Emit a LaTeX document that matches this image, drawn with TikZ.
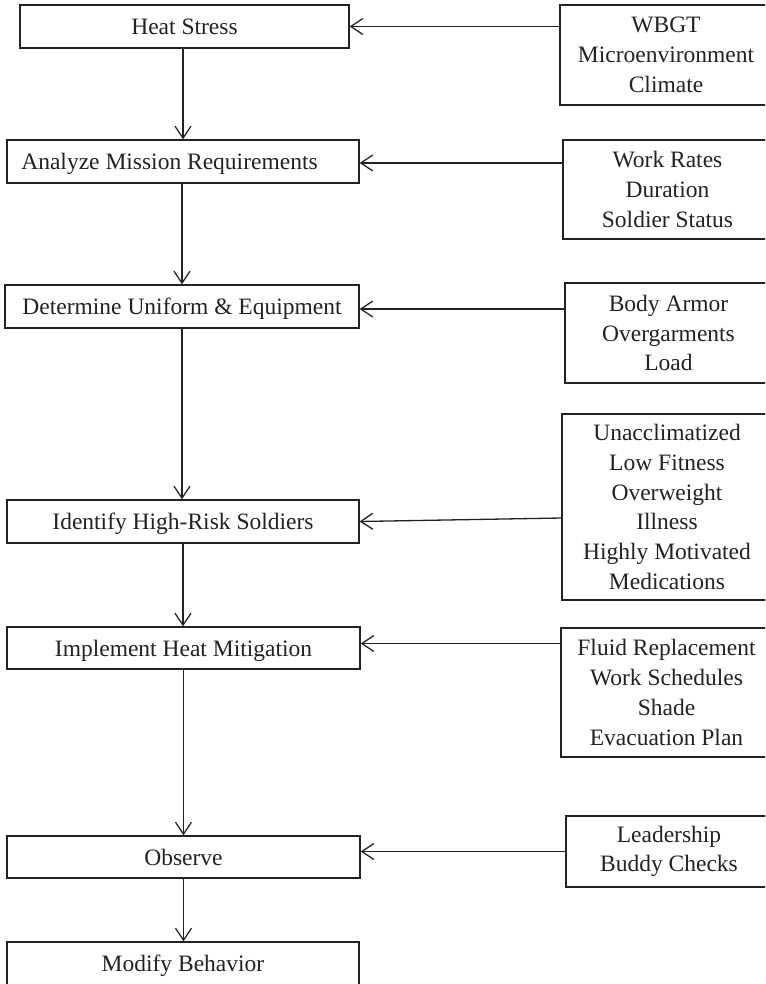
\documentclass[tikz,border=0pt]{standalone}
\usepackage{fontspec}
\setmainfont{Liberation Serif}
\usetikzlibrary{arrows.meta}
\definecolor{ink}{HTML}{222222}
\begin{document}
\begin{tikzpicture}[x=1pt,y=-1pt,
  stepbox/.style={draw=ink, line width=1.3pt, rectangle, inner sep=0pt,
    minimum height=43pt, text height=16pt, text depth=0pt,
    font=\fontsize{23.5}{29.7}\selectfont, text=ink},
  factbox/.style={draw=ink, line width=1.3pt, rectangle, inner sep=0pt,
    align=center, font=\fontsize{23.5}{29.7}\selectfont, text=ink},
  arr/.style={draw=ink, line width=1.3pt,
    -{Straight Barb[length=12pt,width=16pt,line width=1.3pt]}},
]
\useasboundingbox (0,0) rectangle (765,984);
\clip (0,0) rectangle (765,984);

% main sequence of steps
\node[stepbox, minimum width=329pt] (hs)  at (184.5,26.5) {Heat Stress};
\node[stepbox, minimum width=352pt] (amr) at (183,161.5) {Analyze Mission Requirements\hspace*{27pt}};
\node[stepbox, minimum width=354pt] (due) at (182,306.5) {Determine Uniform \& Equipment};
\node[stepbox, minimum width=352pt] (ihr) at (183,521.5) {Identify High-Risk Soldiers};
\node[stepbox, minimum width=353pt, minimum height=42pt] (ihm) at (183.5,648) {Implement Heat Mitigation};
\node[stepbox, minimum width=353pt, minimum height=42pt] (obs) at (183.5,857) {Observe};
\node[stepbox, minimum width=352pt] (mod) at (183,963.5) {Modify Behavior};

% contributing factors
\node[factbox, minimum width=212pt, minimum height=100pt] (wbgt) at (666,55)
  {WBGT\\Microenvironment\\Climate};
\node[factbox, minimum width=209pt, minimum height=99pt] (work) at (667.5,189.5)
  {Work Rates\\Duration\\Soldier Status};
\node[factbox, minimum width=207pt, minimum height=100pt] (body) at (668.5,333)
  {Body Armor\\Overgarments\\Load};
\node[factbox, minimum width=210pt, minimum height=186pt] (risk) at (667,507)
  {Unacclimatized\\Low Fitness\\Overweight\\Illness\\Highly Motivated\\Medications};
\node[factbox, minimum width=211pt, minimum height=129pt] (fluid) at (666.5,692.5)
  {Fluid Replacement\\Work Schedules\\Shade\\Evacuation Plan};
\node[factbox, minimum width=206pt, minimum height=71pt] (lead) at (669,851.5)
  {Leadership\\Buddy Checks};

% factor inputs
\draw[arr] (hs.east -| wbgt.west) -- (hs.east);
\draw[arr] ([yshift=-1.5pt]amr.east -| work.west) -- ([yshift=-1.5pt]amr.east);
\draw[arr] ([yshift=-2.5pt]due.east -| body.west) -- ([yshift=-2.5pt]due.east);
\draw[arr] ([yshift=3.5pt]ihr.east -| risk.west) -- (ihr.east);
\draw[arr] ([yshift=4.5pt]ihm.east -| fluid.west) -- ([yshift=4.5pt]ihm.east);
\draw[arr] (lead.west) -- (lead.west -| obs.east);

% flow between steps
\draw[arr] (amr.north |- hs.south) -- (amr.north);
\draw[arr] (due.north |- amr.south) -- (due.north);
\draw[arr] (due.south) -- (due.south |- ihr.north);
\draw[arr] (ihr.south) -- (ihr.south |- ihm.north);
\draw[arr] (ihm.south) -- (ihm.south |- obs.north);
\draw[arr] (obs.south) -- (obs.south |- mod.north);
\end{tikzpicture}
\end{document}
